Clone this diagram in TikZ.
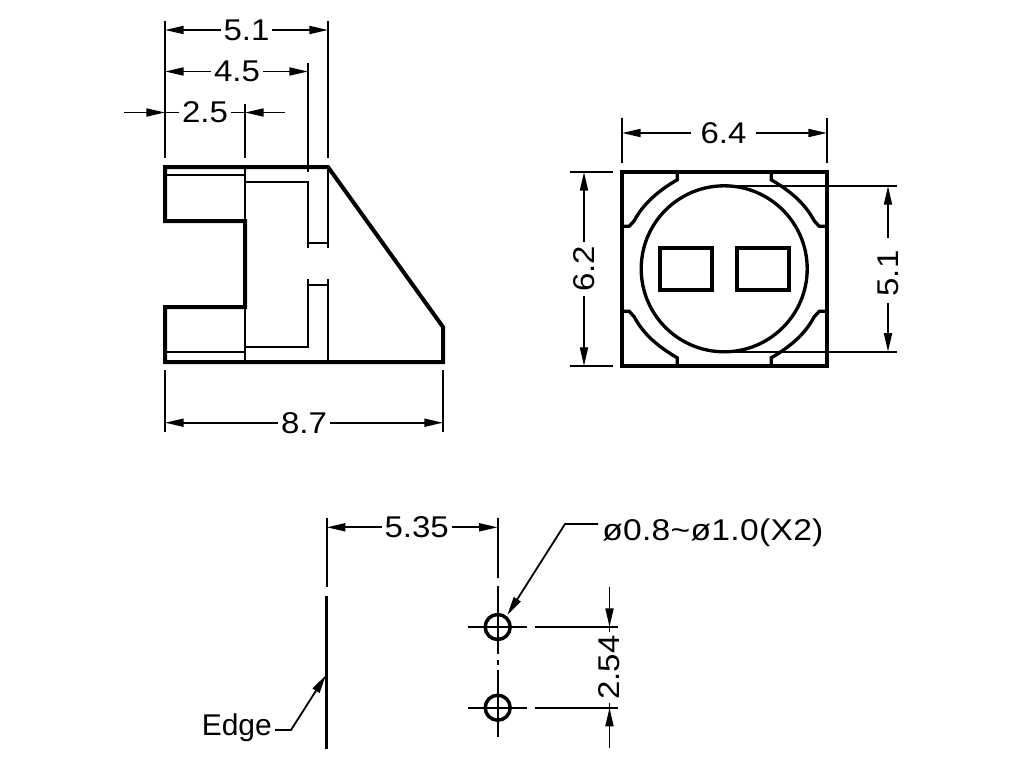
\documentclass[tikz,border=0pt]{standalone}
\usepackage{fontspec}
\setmainfont{Liberation Sans}
\newfontfamily\dimfont[FakeStretch=1.1]{Liberation Sans}
\newfontfamily\notefont[FakeStretch=1.12,LetterSpace=1]{Liberation Sans}
\usetikzlibrary{arrows.meta, positioning, calc}
\tikzset{
    dimtip/.style={-{Stealth[length=14pt,width=6pt,inset=0pt]}},
    thinline/.style={line width=1.35pt},
    outline/.style={line width=3pt, line join=miter},
    partline/.style={line width=2.5pt},
    dimlabel/.style={font=\dimfont\fontsize{22.5}{24}\selectfont, inner sep=2pt, text=black},
}
\begin{document}
\begin{tikzpicture}[x=0.75pt, y=-0.75pt]
    \useasboundingbox (0,0) rectangle (1024,768);

    % Side view
    \draw[outline] (165,167) -- (328,167) -- (443,327) -- (443,362) -- (165,362)
        -- (165,307) -- (245,307) -- (245,221) -- (165,221) -- cycle;
    \draw[thinline] (245,167) -- (245,221);
    \draw[thinline] (245,307) -- (245,362);
    \draw[thinline] (165,175) -- (245,175);
    \draw[thinline] (165,352) -- (245,352);
    \draw[thinline] (245,182) -- (308,182) -- (308,248);
    \draw[thinline] (328,167) -- (328,248);
    \draw[thinline] (308,243) -- (328,243);
    \draw[thinline] (245,347) -- (308,347) -- (308,279);
    \draw[thinline] (328,362) -- (328,279);
    \draw[thinline] (308,285) -- (328,285);

    % Extension lines of the side view
    \draw[thinline] (165,21) -- (165,158);
    \draw[thinline] (328,21) -- (328,158);
    \draw[thinline] (308,63) -- (308,172);
    \draw[thinline] (245,104) -- (245,158);
    \draw[thinline] (165,370) -- (165,432);
    \draw[thinline] (443,370) -- (443,432);

    % Side view dimensions
    \node[dimlabel] (widthA) at (246.5,30) {5.1};
    \coordinate (widthAl) at (165,30);
    \coordinate (widthAr) at (328,30);
    \draw[thinline, dimtip] (widthA) -- (widthAl);
    \draw[thinline, dimtip] (widthA) -- (widthAr);

    \node[dimlabel] (widthB) at (237,71.5) {4.5};
    \coordinate (widthBl) at (165,71.5);
    \coordinate (widthBr) at (308,71.5);
    \draw[thinline, dimtip] (widthB) -- (widthBl);
    \draw[thinline, dimtip] (widthB) -- (widthBr);

    \node[dimlabel] (widthC) at (205,112.5) {2.5};
    \coordinate (widthCl) at (165,112.5);
    \coordinate (widthCr) at (245,112.5);
    \coordinate (widthCa) at (124,112.5);
    \coordinate (widthCb) at (285,112.5);
    \draw[thinline] (widthC) -- (widthCl);
    \draw[thinline] (widthC) -- (widthCr);
    \draw[thinline, dimtip] (widthCa) -- (widthCl);
    \draw[thinline, dimtip] (widthCb) -- (widthCr);

    \node[dimlabel] (lengthA) at (304,422.7) {8.7};
    \coordinate (lengthAl) at (165,422.7);
    \coordinate (lengthAr) at (443,422.7);
    \draw[thinline, dimtip] (lengthA) -- (lengthAl);
    \draw[thinline, dimtip] (lengthA) -- (lengthAr);

    % Front view
    \draw[outline, line width=2.6pt] (622,172) rectangle (827,366);
    \draw[partline] (724.2,268.8) circle (83);
    \draw[partline] (660,248) rectangle (712,290);
    \draw[partline] (737,248) rectangle (789,290);
    \foreach \sx/\sy in {1/1, -1/1, 1/-1, -1/-1} {
        \begin{scope}[shift={(724.2,268.8)}, xscale=\sx, yscale=\sy]
            \draw[partline] (47,-97) -- (47,-89) .. controls (65,-78.5) and (80.5,-66) .. (90,-48)
                -- (95,-42.5) -- (102.5,-42.5);
        \end{scope}
    }

    % Extension lines of the front view
    \draw[thinline] (622,118) -- (622,163);
    \draw[thinline] (827,118) -- (827,163);
    \draw[thinline] (570,172) -- (613,172);
    \draw[thinline] (570,366) -- (613,366);
    \draw[thinline] (724,186) -- (897,186);
    \draw[thinline] (724,351.7) -- (897,351.7);

    % Front view dimensions
    \node[dimlabel, inner sep=7pt] (widthD) at (723.5,133) {6.4};
    \coordinate (widthDl) at (622,133);
    \coordinate (widthDr) at (827,133);
    \draw[thinline, dimtip] (widthD) -- (widthDl);
    \draw[thinline, dimtip] (widthD) -- (widthDr);

    \node[dimlabel, rotate=90, inner sep=3pt] (heightA) at (584,269) {6.2};
    \coordinate (heightAt) at (584,172);
    \coordinate (heightAb) at (584,366);
    \draw[thinline, dimtip] (heightA) -- (heightAt);
    \draw[thinline, dimtip] (heightA) -- (heightAb);

    \node[dimlabel, rotate=90, inner sep=5pt] (heightB) at (888,273.5) {5.1};
    \coordinate (heightBt) at (888,186);
    \coordinate (heightBb) at (888,351.7);
    \draw[thinline, dimtip] ([yshift=4.5pt]heightB.east) -- (heightBt);
    \draw[thinline, dimtip] (heightB) -- (heightBb);

    % Footprint
    \draw[partline] (326.7,596) -- (326.7,749);
    \draw[thinline] (326.7,518) -- (326.7,587);
    \draw[thinline] (497.7,518) -- (497.7,578);
    \draw[partline, line width=2.6pt] (497.7,627) circle (12.5);
    \draw[partline, line width=2.6pt] (497.7,707.7) circle (12.5);
    \draw[thinline] (497.7,586) -- (497.7,654);
    \draw[thinline] (497.7,660) -- (497.7,665);
    \draw[thinline] (497.7,670) -- (497.7,737);
    \foreach \yc in {627, 707.7} {
        \draw[thinline] (468,\yc) -- (527,\yc);
        \draw[thinline] (535,\yc) -- (618,\yc);
    }

    \node[dimlabel] (pitchA) at (416.7,527.3) {5.35};
    \coordinate (pitchAl) at (326.7,527.3);
    \coordinate (pitchAr) at (497.7,527.3);
    \draw[thinline, dimtip] (pitchA) -- (pitchAl);
    \draw[thinline, dimtip] (pitchA) -- (pitchAr);

    \node[dimlabel, rotate=90] (pitchB) at (609.5,667.5) {2.54};
    \coordinate (pitchBt) at (609.5,627);
    \coordinate (pitchBb) at (609.5,707.7);
    \coordinate (pitchBa) at (609.5,586.7);
    \coordinate (pitchBc) at (609.5,748);
    \draw[thinline] (pitchB) -- (pitchBt);
    \draw[thinline] (pitchB) -- (pitchBb);
    \draw[thinline, dimtip] (pitchBa) -- (pitchBt);
    \draw[thinline, dimtip] (pitchBc) -- (pitchBb);

    % Leaders
    \node[dimlabel, font=\notefont\fontsize{22.5}{24}\selectfont, anchor=west, inner sep=0pt] (holeNote)
        at (602,533) {ø0.8\textasciitilde ø1.0(X2)};
    \coordinate (holeStart) at (598,524);
    \coordinate (holeBend) at (565,524);
    \coordinate (holeTip) at (507.3,615);
    \draw[thinline, dimtip] (holeStart) -- (holeBend) -- (holeTip);

    \node[font=\fontsize{22.5}{24}\selectfont, anchor=west, inner sep=0pt] (edgeNote)
        at (201.5,728) {Edge};
    \coordinate (edgeStart) at (275,730);
    \coordinate (edgeBend) at (291,730);
    \coordinate (edgeTip) at (326,675);
    \draw[thinline, dimtip] (edgeStart) -- (edgeBend) -- (edgeTip);
\end{tikzpicture}
\end{document}
